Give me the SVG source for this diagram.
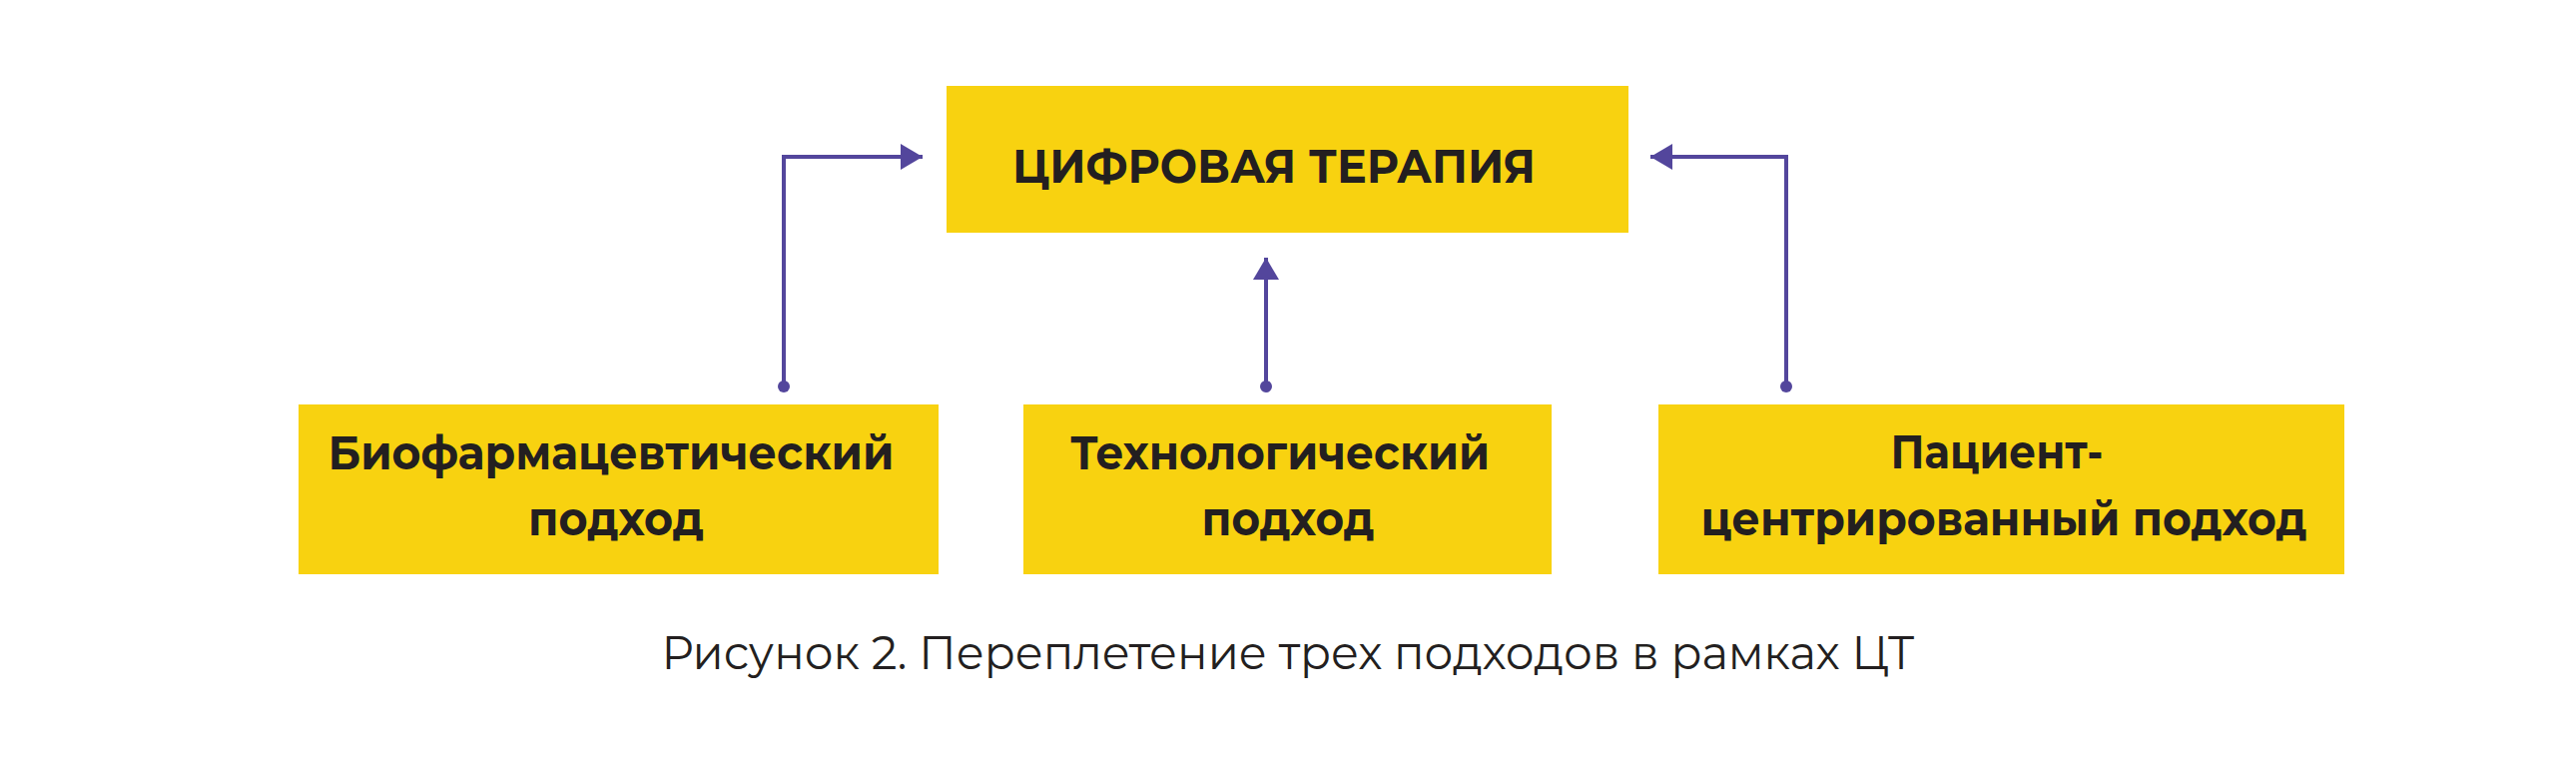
<svg xmlns="http://www.w3.org/2000/svg" width="2580" height="764" viewBox="0 0 2580 764">
<style>
.box{fill:#f8d210}
.t{font-family:"Montserrat","Open Sans","Liberation Sans",sans-serif;font-weight:700;font-size:48px;fill:#231f20;text-anchor:middle}
.cap{font-family:"Montserrat","Open Sans","Liberation Sans",sans-serif;font-weight:400;font-size:46px;fill:#231f20;text-anchor:middle}
.ln{fill:none;stroke:#53469c;stroke-width:4}
.dot{fill:#53469c}
</style>
<defs>
<marker id="ah" viewBox="0 0 22 26" refX="22" refY="13" markerWidth="22" markerHeight="26" markerUnits="userSpaceOnUse" orient="auto">
<path d="M0,0 L22,13 L0,26 Z" fill="#53469c"/>
</marker>
</defs>
<rect width="2580" height="764" fill="#ffffff"/>
<g id="node-therapy">
<rect class="box" x="948" y="86" width="683" height="147"/>
<text class="t" x="1276" y="183" font-size="50" textLength="524" lengthAdjust="spacingAndGlyphs">ЦИФРОВАЯ ТЕРАПИЯ</text>
</g>
<g id="node-bio">
<rect class="box" x="299" y="405" width="641" height="170"/>
<text class="t" x="612" y="470" textLength="567" lengthAdjust="spacingAndGlyphs">Биофармацевтический</text>
<text class="t" x="617" y="536" textLength="176" lengthAdjust="spacingAndGlyphs">подход</text>
</g>
<g id="node-tech">
<rect class="box" x="1025" y="405" width="529" height="170"/>
<text class="t" x="1282" y="470" textLength="420" lengthAdjust="spacingAndGlyphs">Технологический</text>
<text class="t" x="1290" y="536" textLength="173" lengthAdjust="spacingAndGlyphs">подход</text>
</g>
<g id="node-patient">
<rect class="box" x="1661" y="405" width="687" height="170"/>
<text class="t" x="2000" y="469" textLength="213" lengthAdjust="spacingAndGlyphs">Пациент-</text>
<text class="t" x="2007" y="536" textLength="607" lengthAdjust="spacingAndGlyphs">центрированный подход</text>
</g>
<g id="connectors">
<path class="ln" d="M785,387 V157 H924" marker-end="url(#ah)"/>
<circle class="dot" cx="785" cy="387" r="6"/>
<path class="ln" d="M1268,387 V258" marker-end="url(#ah)"/>
<circle class="dot" cx="1268" cy="387" r="6"/>
<path class="ln" d="M1789,387 V157 H1653" marker-end="url(#ah)"/>
<circle class="dot" cx="1789" cy="387" r="6"/>
</g>
<g id="caption">
<text class="cap" x="1290" y="670" textLength="1255" lengthAdjust="spacingAndGlyphs">Рисунок 2. Переплетение трех подходов в рамках ЦТ</text>
</g>
</svg>
